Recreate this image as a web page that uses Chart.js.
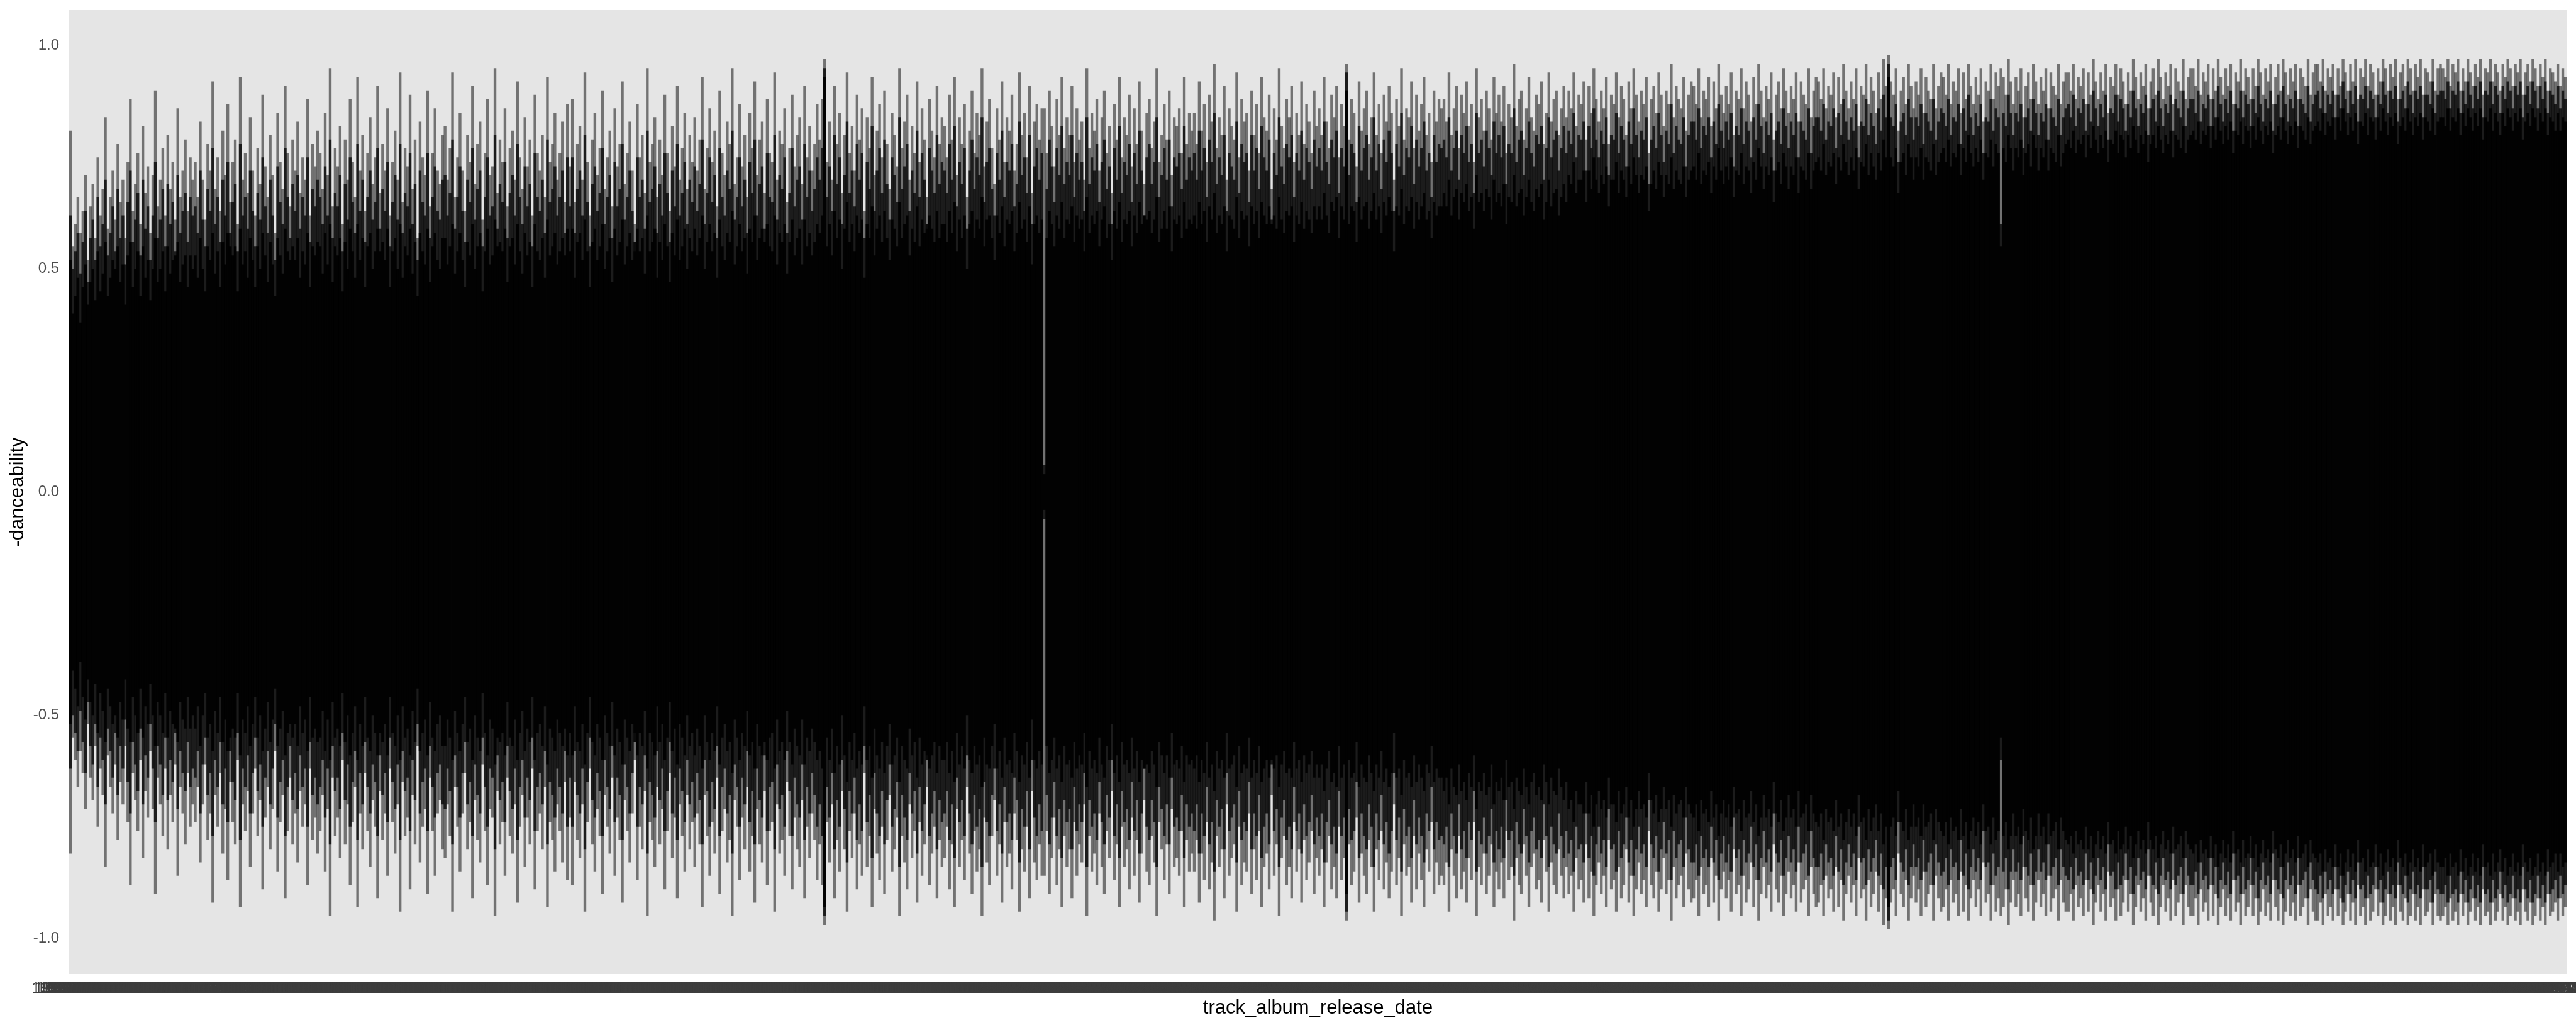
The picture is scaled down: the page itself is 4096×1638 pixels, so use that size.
<!DOCTYPE html>
<html>
<head>
<meta charset="utf-8">
<script src="https://cdn.jsdelivr.net/npm/chart.js@4/dist/chart.umd.min.js"></script>
<style>
html,body{margin:0;padding:0;background:#ffffff;}
#wrap{width:4096px;height:1638px;}
</style>
</head>
<body>
<div id="wrap"><canvas id="c" width="4096" height="1638" style="width:4096px;height:1638px"></canvas></div>
<script>
// ---- category axis: release dates (per year counts of distinct dates) ----
const releaseYears = [1957,1958,1959,1960,1961,1962,1963,1964,1965,1966,1967,1968,1969,1970,1971,1972,1973,1974,1975,1976,1977,1978,1979,1980,1981,1982,1983,1984,1985,1986,1987,1988,1989,1990,1991,1992,1993,1994,1995,1996,1997,1998,1999,2000,2001,2002,2003,2004,2005,2006,2007,2008,2009,2010,2011,2012,2013,2014,2015,2016,2017,2018,2019,2020];
const datesPerYear = [3,3,3,4,4,4,5,5,6,6,7,7,7,8,8,8,8,8,8,8,9,9,9,9,9,9,10,10,10,10,10,11,11,11,12,12,12,13,13,14,14,15,16,16,17,17,18,19,20,21,22,23,24,25,27,29,31,33,36,40,44,50,58,52];

// ---- y ticks ----
const yTickValues = [-1.0, -0.5, 0.0, 0.5, 1.0];
const yTickLabels = ["-1.0", "-0.5", "0.0", "0.5", "1.0"];

// ---- danceability envelopes per release date (in hundredths) ----
// outer: longest segment at each date; mid: typical; core: densest part
const outerDanceability = [
81,55,60,66,58,63,71,52,64,69,57,75,62,68,84,59,66,72,61,78,65,70,57,74,88,
63,69,76,60,82,67,73,58,71,90,64,70,77,62,80,68,74,61,86,66,72,79,63,75,70,
74,66,83,70,61,78,72,92,68,75,63,81,71,87,65,74,79,60,93,70,76,67,84,72,62,
77,69,89,73,66,80,71,58,85,74,68,91,76,64,79,72,83,67,75,70,88,62,78,73,81,
76,68,85,71,95,64,77,73,82,60,79,70,88,74,66,93,72,80,63,76,84,69,75,91,67,
78,72,86,62,74,81,70,94,65,77,73,89,68,79,57,83,75,71,90,64,76,86,72,69,80,
82,70,77,94,66,75,85,72,63,80,74,91,69,78,83,61,76,88,71,73,95,67,79,74,86,
64,77,81,70,92,75,68,84,73,79,62,89,76,72,80,66,93,74,78,85,70,76,83,65,87,
73,88,65,78,82,70,94,74,62,79,85,71,77,90,68,75,81,64,86,73,78,92,69,76,83,
72,60,87,75,80,67,95,74,78,84,66,79,71,89,76,63,82,73,91,70,77,85,68,80,74,
84,72,79,93,68,77,86,74,81,64,90,76,71,83,78,95,69,75,87,73,80,66,85,77,92,
71,79,83,67,88,76,74,94,70,81,78,86,65,77,89,73,80,84,69,91,75,82,72,78,87,
79,88,97,74,83,70,91,78,85,67,80,94,76,82,72,89,79,86,63,84,77,93,71,81,87,
75,90,78,68,85,80,73,95,77,83,89,70,82,76,92,74,86,79,66,88,81,75,91,78,84,
82,75,89,79,93,71,84,78,87,66,81,90,76,85,80,95,73,83,88,77,69,86,79,92,74,
84,81,89,72,78,94,80,85,75,91,67,83,87,79,86,86,76,90,82,73,88,80,93,77,84,
80,91,74,86,79,83,70,95,77,85,81,88,72,84,90,76,82,67,87,79,93,75,84,80,89,
73,86,78,92,81,69,85,88,77,83,95,74,80,87,79,90,71,84,82,86,76,93,78,85,81,
85,78,92,81,87,74,89,83,96,77,84,80,91,70,86,82,79,94,75,88,83,85,72,90,80,
87,76,93,84,81,89,68,86,79,95,82,77,88,84,91,74,85,80,92,78,87,83,76,90,82,
86,80,93,83,77,89,84,91,75,87,82,96,79,88,85,73,92,81,86,90,78,84,94,80,87,
76,89,83,91,85,70,88,82,95,79,86,84,92,77,89,81,87,93,80,85,74,90,83,88,86,
88,83,94,80,86,91,77,89,85,92,82,87,74,95,84,88,81,90,86,79,93,85,89,83,91,
76,87,84,96,82,88,90,79,86,93,84,81,89,87,92,78,85,94,83,88,90,80,86,91,84,
90,86,94,82,89,87,92,79,91,85,95,88,83,90,86,93,78,89,87,94,84,91,88,80,92,
86,95,89,83,90,87,93,76,88,91,85,94,89,82,90,87,96,84,91,88,86,93,81,89,92,
91,87,95,84,90,88,93,82,92,86,96,89,85,91,87,94,80,90,88,95,86,92,89,83,93,
87,96,90,84,91,88,94,79,89,92,86,95,90,85,91,88,94,83,92,89,87,95,84,90,93,
92,88,95,86,91,89,94,84,93,87,96,90,86,92,88,95,82,91,89,96,87,93,90,85,94,
88,97,91,98,92,89,95,81,90,93,87,96,91,86,92,89,95,85,93,90,88,96,86,91,94,
93,89,96,87,92,90,95,85,94,88,96,91,87,93,89,95,83,92,90,96,88,94,91,95,93,
89,97,92,87,93,90,95,84,91,94,88,96,92,87,93,90,95,86,94,91,89,96,87,92,94,
94,90,96,88,93,91,95,87,94,89,97,92,88,94,90,96,85,93,91,96,89,95,92,87,94,
90,97,93,88,94,91,96,86,92,95,89,97,93,88,94,91,96,87,95,92,90,97,88,93,95,
95,91,97,89,94,92,96,88,95,90,97,93,89,95,91,96,87,94,92,97,90,95,93,88,95,
91,97,94,89,95,92,96,87,93,96,90,97,94,89,95,92,96,88,95,93,91,97,89,94,96,
96,92,97,90,95,93,96,89,95,91,97,94,90,96,92,97,88,95,93,97,91,96,94,89,95,
92,97,95,90,96,93,97,88,94,96,91,97,95,90,96,93,97,89,95,94,92,97,90,95,96,
95,93,97,91,96,94,97,90,95,92,97,94,91,96,93,97,89,95,94,97,92,96,94,90,96,
93,97,95,91,96,94,97,89,94,96,92,97,95,91,96,93,97,90,95,94,92,96,91,95,93
];
const midDanceability = [
62,50,54,58,49,56,63,47,57,61,52,66,55,60,70,53,58,64,54,68,57,62,51,65,72,
56,61,67,53,70,59,64,52,62,74,57,61,68,55,69,60,65,54,71,58,63,67,56,66,62,
64,58,72,61,55,68,63,77,60,66,56,70,62,74,58,65,69,54,78,62,66,59,72,63,55,
67,61,75,64,58,70,62,52,73,65,60,77,66,57,69,63,71,59,66,62,75,56,68,64,70,
66,60,73,62,79,57,67,64,71,54,69,61,75,65,58,78,63,70,56,66,72,61,65,77,59,
68,63,74,55,65,71,61,78,58,67,64,76,60,69,52,72,65,62,76,57,66,73,63,61,70,
71,62,67,79,59,66,73,63,56,70,65,77,61,68,72,55,66,75,62,64,80,59,69,65,74,
57,67,71,62,78,66,60,73,64,69,55,76,66,63,70,58,79,65,68,73,62,66,72,58,75,
64,75,58,68,72,62,80,65,55,69,73,63,67,77,60,66,71,57,74,64,68,78,61,66,72,
63,54,75,66,70,59,81,65,68,73,58,69,62,76,67,56,72,64,78,62,67,74,60,70,65,
73,63,69,79,60,67,75,65,71,57,77,66,62,72,68,81,61,66,75,64,70,58,74,67,79,
62,69,73,59,76,66,65,80,61,71,68,75,58,67,77,64,70,73,61,78,66,72,63,68,75,
70,77,95,66,73,63,80,69,75,60,71,83,67,72,64,78,70,76,57,74,68,82,63,72,77,
67,79,69,61,75,71,65,84,68,73,78,63,72,67,81,66,76,70,59,77,72,67,80,69,74,
72,67,78,70,82,64,74,69,77,59,72,79,68,75,71,84,65,74,77,68,62,76,70,81,66,
74,72,78,64,69,83,71,75,67,80,60,73,77,70,76,6,68,79,73,65,77,71,82,69,74,
71,80,66,76,70,74,63,84,69,75,72,78,65,74,79,68,73,60,77,70,82,67,74,71,78,
65,76,69,81,72,62,75,78,69,74,84,66,71,77,70,79,64,75,73,76,68,82,70,75,72,
76,70,81,72,77,66,79,74,85,69,75,71,80,63,76,73,70,83,67,78,74,76,65,80,72,
77,68,82,75,72,79,61,76,71,84,73,69,78,75,80,66,76,72,81,70,77,74,68,79,73,
77,72,83,74,69,79,75,81,67,77,73,94,71,78,76,65,82,72,77,80,70,75,84,72,78,
68,79,74,81,76,63,78,73,85,71,77,75,82,69,79,73,77,83,72,76,66,80,74,78,77,
79,75,84,72,77,81,70,80,76,82,74,78,67,85,76,79,73,81,77,71,83,76,80,75,82,
69,78,76,86,74,79,81,71,77,83,76,73,80,78,82,70,77,84,75,79,81,72,77,82,76,
81,78,85,75,80,79,83,72,82,77,86,79,75,81,78,84,71,80,79,85,76,82,79,73,83,
78,86,80,75,81,79,84,69,79,82,77,85,80,74,81,78,87,76,82,79,78,84,73,80,83,
83,79,86,77,82,80,84,75,83,78,87,81,77,83,79,85,73,82,80,86,78,83,81,75,84,
79,87,82,76,83,80,85,72,81,83,78,86,82,77,83,80,85,75,83,81,79,86,76,82,84,
84,81,87,79,83,82,86,77,85,80,88,83,79,84,81,87,75,83,82,88,80,85,82,78,86,
81,89,84,96,84,82,87,74,83,85,80,88,84,79,84,82,87,78,85,83,81,88,79,83,86,
85,82,88,80,84,83,87,78,86,81,89,84,80,85,82,87,76,84,83,88,81,86,84,60,85,
82,89,85,80,85,83,87,77,84,86,81,88,85,80,85,83,87,79,86,84,82,88,80,84,86,
87,84,89,82,86,85,88,81,87,83,90,86,82,87,84,89,79,86,85,89,83,88,86,81,87,
84,90,86,82,87,85,89,80,86,88,83,90,86,82,87,85,89,81,88,86,84,90,82,86,88,
88,85,90,83,87,86,89,82,88,84,91,87,83,88,85,90,81,87,86,90,84,89,87,82,88,
85,91,87,83,88,86,90,81,87,89,84,91,87,83,88,86,90,82,88,87,85,91,83,87,89,
90,86,91,85,89,87,90,84,89,86,92,88,85,90,87,91,83,89,88,91,86,90,88,84,89,
87,92,89,85,90,88,91,83,88,90,86,92,89,85,90,88,91,84,89,89,87,92,85,89,90,
90,88,92,86,90,89,92,85,90,87,92,89,86,91,88,92,84,90,89,92,87,91,89,85,91,
88,92,90,86,91,89,92,84,89,91,87,92,90,86,91,88,92,85,90,89,87,91,86,90,88
];
const coreDanceability = [
52,40,44,48,38,46,51,42,47,50,43,54,45,49,56,44,48,52,50,55,47,51,42,53,56,
46,50,54,44,55,48,52,43,50,57,47,50,54,45,55,49,52,53,56,47,51,53,46,53,50,
53,48,57,50,45,55,52,58,49,54,46,56,51,58,55,53,55,45,59,51,54,48,57,52,46,
55,50,58,53,47,56,51,44,57,53,49,59,54,52,55,52,57,48,54,51,58,46,55,53,56,
55,49,58,51,60,47,55,53,57,45,56,50,59,54,48,60,52,57,46,55,58,50,54,59,54,
56,52,59,46,54,57,50,60,48,55,53,59,49,56,44,58,54,51,59,47,55,58,52,50,57,
57,51,55,60,49,54,58,52,46,56,53,60,50,55,58,45,54,59,51,53,61,55,56,54,59,
47,55,57,51,60,54,49,58,53,56,46,60,54,52,57,48,61,53,55,58,51,54,57,53,59,
54,59,48,56,58,52,61,54,46,56,59,52,55,60,50,54,57,47,59,53,56,61,51,55,58,
52,56,59,54,57,49,62,54,56,59,48,56,52,60,55,47,58,53,61,52,55,59,50,57,54,
59,53,57,62,50,56,60,54,58,48,61,55,52,58,56,63,51,55,60,54,57,49,59,56,62,
52,57,59,56,60,55,54,62,51,58,56,60,49,56,61,53,57,59,51,61,55,58,53,56,60,
58,62,93,55,60,53,63,57,61,50,59,65,56,60,54,62,58,61,48,60,57,64,53,59,62,
56,63,57,52,61,59,55,65,57,60,62,53,59,56,64,55,61,58,60,62,59,56,63,57,60,
60,56,63,58,65,54,61,57,62,50,60,63,57,61,59,66,55,61,62,57,52,62,58,64,55,
61,60,63,54,58,65,59,61,56,64,51,60,62,58,61,4,57,63,60,55,62,59,65,57,61,
60,64,56,62,59,61,54,66,58,62,60,63,55,61,64,57,60,52,63,59,65,56,61,60,63,
55,62,58,65,60,62,61,63,58,61,66,56,59,63,59,64,54,61,60,62,57,65,59,61,60,
62,59,65,60,63,56,64,61,67,58,62,60,64,54,62,61,59,66,57,63,61,62,55,64,60,
63,57,65,62,60,64,60,62,59,66,61,58,63,62,64,56,62,60,65,59,63,61,58,64,61,
64,61,67,62,58,65,63,66,57,64,61,90,60,64,63,56,66,61,64,65,59,63,67,61,64,
58,65,62,66,63,54,64,62,68,60,64,63,66,59,65,61,64,67,61,63,57,65,62,64,64,
67,64,70,62,66,68,61,67,65,69,63,66,59,71,65,67,63,68,66,61,70,65,67,64,69,
60,66,65,71,64,67,68,62,66,70,65,63,68,66,69,61,65,70,64,67,68,62,66,69,65,
71,69,74,67,70,70,72,65,72,68,75,70,67,71,69,73,64,70,70,74,67,72,70,66,73,
69,75,71,67,71,70,73,63,69,72,68,74,71,66,71,69,75,68,72,70,69,73,66,70,72,
73,70,76,69,72,71,74,67,73,70,77,72,69,73,70,75,66,72,71,76,69,73,72,67,74,
70,77,73,68,73,71,75,65,72,74,69,76,73,68,73,71,75,67,73,72,70,76,68,72,74,
75,72,78,71,74,73,76,69,75,72,78,74,71,75,72,77,68,74,73,78,71,76,73,70,76,
72,79,75,93,75,73,77,67,74,76,71,78,75,70,75,73,77,70,75,74,72,78,71,74,76,
77,74,79,73,76,75,78,71,77,74,80,76,73,77,74,79,70,76,75,79,73,78,76,55,77,
74,80,77,72,77,75,79,71,76,78,73,80,77,72,77,75,79,72,77,76,74,80,73,76,78,
79,77,81,76,79,78,80,75,80,77,82,79,76,80,77,81,74,79,78,81,76,80,79,75,80,
77,82,79,76,80,78,81,74,78,80,77,82,79,76,80,78,81,75,80,79,77,82,76,79,80,
81,79,83,78,81,80,82,77,82,79,84,81,78,82,79,83,76,81,80,83,78,82,81,77,82,
79,84,81,78,82,80,83,76,80,82,79,84,81,78,82,80,83,77,82,81,79,84,78,81,82,
83,81,85,80,83,82,84,79,84,81,86,83,80,84,81,85,78,83,82,85,80,84,83,79,84,
81,86,83,80,84,82,85,78,82,84,81,86,83,80,84,82,85,79,84,83,81,86,80,83,84,
84,82,86,81,84,83,86,80,85,82,86,84,81,85,82,86,79,84,83,86,81,85,83,80,85,
82,86,84,81,85,83,86,79,83,85,82,86,84,81,85,83,86,80,84,83,81,85,81,84,83
];

// ---- build category labels from years/counts ----
const pad2 = n => String(n).padStart(2, "0");
const releaseDates = [];
releaseYears.forEach((y, k) => {
  const c = datesPerYear[k];
  for (let i = 0; i < c; i++) {
    releaseDates.push(`${y}-${pad2(1 + Math.floor(12 * i / c))}-${pad2(1 + (i * 11) % 28)}`);
  }
});

const FONT = "'Liberation Sans', Arial, Helvetica, sans-serif";
const toRange = arr => arr.map(v => [-v / 100, v / 100]);

const panelBg = {
  id: 'panelBg',
  beforeDraw(chart) {
    const {ctx, chartArea: a} = chart;
    ctx.save();
    ctx.fillStyle = '#ffffff';
    ctx.fillRect(0, 0, chart.width, chart.height);
    ctx.fillStyle = '#e5e5e5';
    ctx.fillRect(a.left, a.top, a.right - a.left, a.bottom - a.top);
    ctx.restore();
  }
};

const barCommon = {grouped: false, categoryPercentage: 1.0, barPercentage: 1.1, borderWidth: 0, borderSkipped: false};

new Chart(document.getElementById('c'), {
  type: 'bar',
  data: {
    labels: releaseDates,
    datasets: [
      Object.assign({label: 'core', data: toRange(coreDanceability), backgroundColor: 'rgba(0,0,0,0.9)'}, barCommon),
      Object.assign({label: 'mid', data: toRange(midDanceability), backgroundColor: 'rgba(0,0,0,0.75)'}, barCommon),
      Object.assign({label: 'outer', data: toRange(outerDanceability), backgroundColor: 'rgba(0,0,0,0.5)'}, barCommon)
    ]
  },
  options: {
    responsive: false,
    maintainAspectRatio: false,
    animation: false,
    devicePixelRatio: 1,
    events: [],
    layout: {padding: {left: 0, right: 15, top: 16, bottom: 0}},
    plugins: {legend: {display: false}, tooltip: {enabled: false}},
    scales: {
      x: {
        type: 'category',
        offset: true,
        grid: {display: false, drawTicks: false},
        border: {display: false},
        ticks: {autoSkip: false, maxRotation: 0, minRotation: 0, color: '#3d3d3d', padding: 9,
                font: {family: FONT, size: 24}},
        title: {display: true, text: 'track_album_release_date', color: '#000000',
                font: {family: FONT, size: 31}, padding: {top: 0, bottom: 16}},
        afterFit(s) { s.height = 89; s.paddingLeft = 0; s.paddingRight = 0; }
      },
      y: {
        min: -1.08, max: 1.08,
        grid: {display: false, drawTicks: false},
        border: {display: false},
        afterBuildTicks(s) { s.ticks = yTickValues.map(v => ({value: v})); },
        ticks: {color: '#4d4d4d', padding: 16, font: {family: FONT, size: 24},
                callback: (v) => { const i = yTickValues.indexOf(v); return i >= 0 ? yTickLabels[i] : ''; }},
        title: {display: true, text: '-danceability', color: '#000000',
                font: {family: FONT, size: 31}, padding: {top: 10, bottom: 0}},
        afterFit(s) { s.width = 110; s.paddingTop = 0; s.paddingBottom = 0; }
      }
    }
  },
  plugins: [panelBg]
});
</script>
</body>
</html>
